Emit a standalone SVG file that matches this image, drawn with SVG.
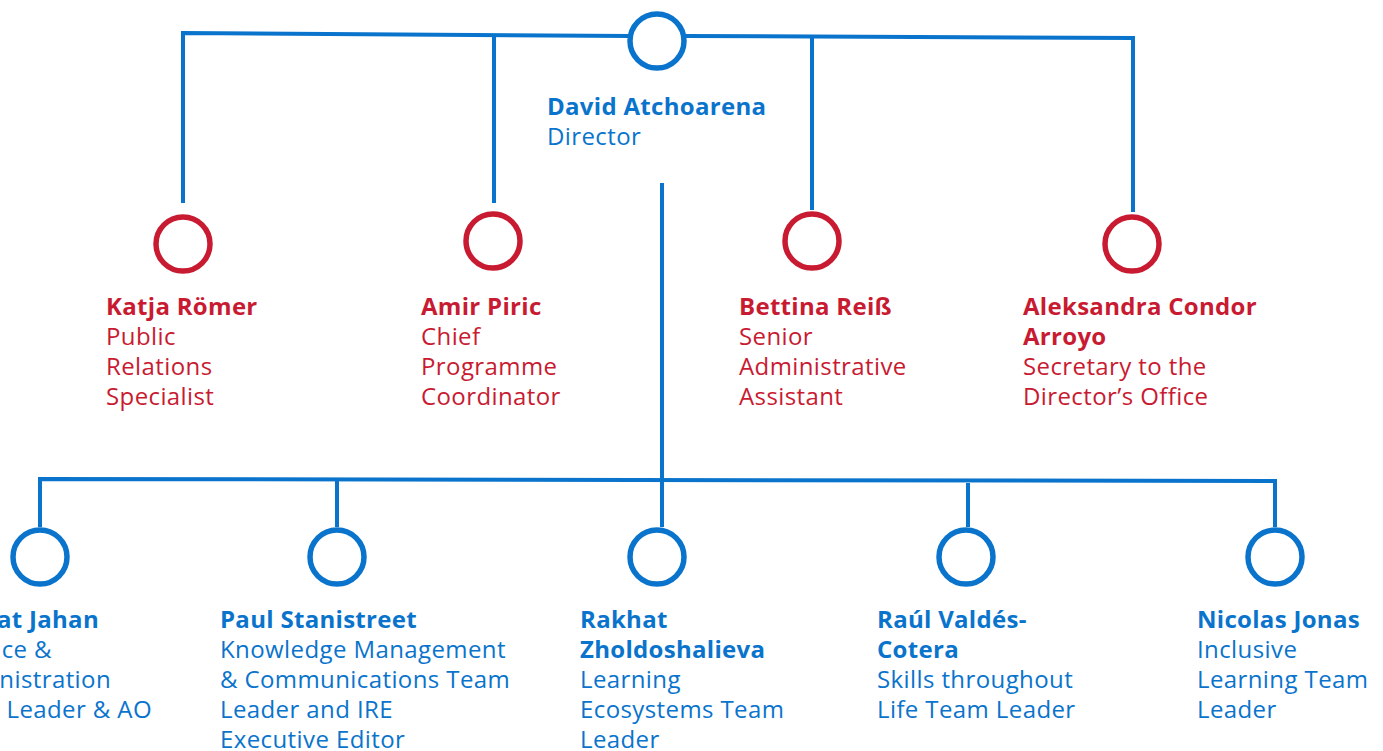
<svg xmlns="http://www.w3.org/2000/svg" width="1383" height="751" viewBox="0 0 1383 751">
<style>
.bg{fill:#ffffff}
.ln{fill:none;stroke:#0A74CC;stroke-width:4;stroke-linecap:butt;stroke-linejoin:miter}
.cb{fill:#ffffff;stroke:#0A74CC;stroke-width:5.5}
.cr{fill:#ffffff;stroke:#C81B32;stroke-width:5.5}
text{font-family:"Open Sans","Noto Sans",sans-serif;font-size:24px;letter-spacing:0.4px}
.b{fill:#0A74CC}
.r{fill:#C81B32}
.n{font-weight:700;letter-spacing:0.3px}
</style>
<rect class="bg" x="0" y="0" width="1383" height="751"/>
<g id="connectors">
<path class="ln" d="M183,203 L183,33 L630,36"/>
<path class="ln" d="M685,36 L1133,38 L1133,212"/>
<path class="ln" d="M494,35 L494,203"/>
<path class="ln" d="M812,37 L812,210"/>
<path class="ln" d="M662,183 L662,527"/>
<path class="ln" d="M40,527 L40,479 L1275,481 L1275,527"/>
<path class="ln" d="M337,479 L337,527"/>
<path class="ln" d="M968,483 L968,527"/>
</g>
<g id="director">
<circle class="cb" cx="657" cy="41" r="27"/>
<text class="b n" x="547" y="115">David Atchoarena</text>
<text class="b" x="547" y="145">Director</text>
</g>
<g id="katja">
<circle class="cr" cx="183" cy="244" r="27"/>
<text class="r n" x="106" y="315">Katja Römer</text>
<text class="r" x="106" y="345">Public</text>
<text class="r" x="106" y="375">Relations</text>
<text class="r" x="106" y="405">Specialist</text>
</g>
<g id="amir">
<circle class="cr" cx="493" cy="241" r="27"/>
<text class="r n" x="421" y="315">Amir Piric</text>
<text class="r" x="421" y="345">Chief</text>
<text class="r" x="421" y="375">Programme</text>
<text class="r" x="421" y="405">Coordinator</text>
</g>
<g id="bettina">
<circle class="cr" cx="812" cy="241" r="27"/>
<text class="r n" x="739" y="315">Bettina Reiß</text>
<text class="r" x="739" y="345">Senior</text>
<text class="r" x="739" y="375">Administrative</text>
<text class="r" x="739" y="405">Assistant</text>
</g>
<g id="aleksandra">
<circle class="cr" cx="1132" cy="244" r="27"/>
<text class="r n" x="1023" y="315">Aleksandra Condor</text>
<text class="r n" x="1023" y="345">Arroyo</text>
<text class="r" x="1023" y="375">Secretary to  the</text>
<text class="r" x="1023" y="405">Director’s Office</text>
</g>
<g id="jahan">
<circle class="cb" cx="40" cy="557" r="27"/>
<text class="b n" x="99" y="628" text-anchor="end">at Jahan</text>
<text class="b" x="52" y="658" text-anchor="end">ce &amp;</text>
<text class="b" x="111" y="688" text-anchor="end">nistration</text>
<text class="b" x="152" y="718" text-anchor="end">Leader &amp; AO</text>
</g>
<g id="paul">
<circle class="cb" cx="337" cy="557" r="27"/>
<text class="b n" x="220" y="628">Paul Stanistreet</text>
<text class="b" x="220" y="658">Knowledge Management</text>
<text class="b" x="220" y="688">&amp; Communications Team</text>
<text class="b" x="220" y="718">Leader and IRE</text>
<text class="b" x="220" y="748">Executive Editor</text>
</g>
<g id="rakhat">
<circle class="cb" cx="657" cy="557" r="27"/>
<text class="b n" x="580" y="628">Rakhat</text>
<text class="b n" x="580" y="658">Zholdoshalieva</text>
<text class="b" x="580" y="688">Learning</text>
<text class="b" x="580" y="718">Ecosystems Team</text>
<text class="b" x="580" y="748">Leader</text>
</g>
<g id="raul">
<circle class="cb" cx="966" cy="557" r="27"/>
<text class="b n" x="877" y="628">Raúl Valdés-</text>
<text class="b n" x="877" y="658">Cotera</text>
<text class="b" x="877" y="688">Skills throughout</text>
<text class="b" x="877" y="718">Life Team Leader</text>
</g>
<g id="nicolas">
<circle class="cb" cx="1275" cy="557" r="27"/>
<text class="b n" x="1197" y="628">Nicolas Jonas</text>
<text class="b" x="1197" y="658">Inclusive</text>
<text class="b" x="1197" y="688">Learning Team</text>
<text class="b" x="1197" y="718">Leader</text>
</g>
</svg>
